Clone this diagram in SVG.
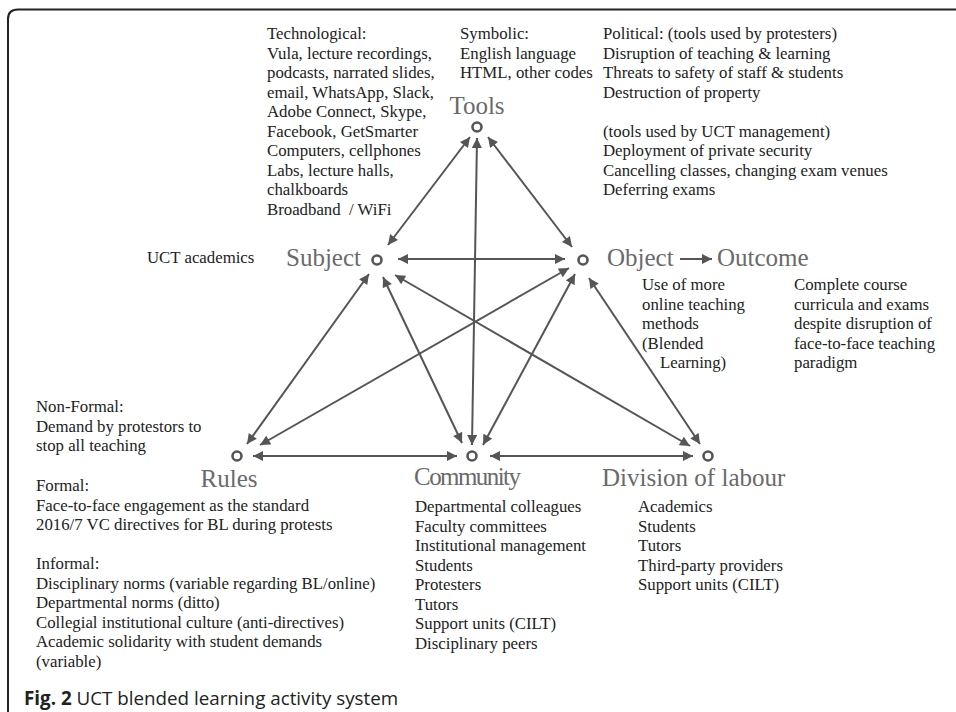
<svg xmlns="http://www.w3.org/2000/svg" width="956" height="712" viewBox="0 0 956 712">
<style>
.t{font-family:"Liberation Serif","Times New Roman",serif;font-size:16.8px;fill:#222}
.lbl{font-family:"Liberation Serif","Times New Roman",serif;font-size:25px;fill:#6a6a6a}
.node{fill:none;stroke:#555;stroke-width:2.6}
.edge{stroke:#555;stroke-width:2;fill:none;marker-start:url(#ah);marker-end:url(#ah)}
.cap{font-family:"Open Sans","Noto Sans",sans-serif;font-size:18.8px;fill:#222}
</style>
<defs>
<marker id="ah" viewBox="0 0 10 10" refX="10" refY="5" markerUnits="userSpaceOnUse" markerWidth="11" markerHeight="10" orient="auto-start-reverse">
<path d="M0,0 L10,5 L0,10 z" fill="#555"/>
</marker>
</defs>
<rect width="956" height="712" fill="#fff"/>
<path d="M8,712 L8,19 Q8,9.5 18,9.5 L956,9.5" fill="none" stroke="#222" stroke-width="2"/>

<g id="connectors">
<line class="edge" x1="470" y1="137" x2="388" y2="245"/>
<line class="edge" x1="488" y1="137" x2="572" y2="247"/>
<line class="edge" x1="477" y1="138" x2="472" y2="445"/>
<line class="edge" x1="398" y1="259" x2="565" y2="259"/>
<line class="edge" x1="369" y1="274" x2="247" y2="444"/>
<line class="edge" x1="383" y1="277" x2="462" y2="443"/>
<line class="edge" x1="395" y1="275" x2="690" y2="446"/>
<line class="edge" x1="569" y1="268" x2="260" y2="445"/>
<line class="edge" x1="575" y1="274" x2="483" y2="445"/>
<line class="edge" x1="589" y1="278" x2="700" y2="444"/>
<line class="edge" x1="253" y1="456" x2="457" y2="456"/>
<line class="edge" x1="490" y1="456" x2="693" y2="456"/>
<line x1="680" y1="259" x2="712" y2="259" stroke="#555" stroke-width="2" marker-end="url(#ah)"/>
</g>

<g id="tools">
<circle class="node" cx="477" cy="127" r="4.5"/>
<text class="lbl" x="477" y="114" text-anchor="middle">Tools</text>
<text class="t" x="267" y="39">Technological:</text>
<text class="t" x="267" y="58.5">Vula, lecture recordings,</text>
<text class="t" x="267" y="78">podcasts, narrated slides,</text>
<text class="t" x="267" y="97.5">email, WhatsApp, Slack,</text>
<text class="t" x="267" y="117">Adobe Connect, Skype,</text>
<text class="t" x="267" y="136.5">Facebook, GetSmarter</text>
<text class="t" x="267" y="156">Computers, cellphones</text>
<text class="t" x="267" y="175.5">Labs, lecture halls,</text>
<text class="t" x="267" y="195">chalkboards</text>
<text class="t" x="267" y="214.5" xml:space="preserve">Broadband  / WiFi</text>
<text class="t" x="460" y="39">Symbolic:</text>
<text class="t" x="460" y="58.5">English language</text>
<text class="t" x="460" y="78">HTML, other codes</text>
<text class="t" x="603" y="39">Political: (tools used by protesters)</text>
<text class="t" x="603" y="58.5">Disruption of teaching &amp; learning</text>
<text class="t" x="603" y="78">Threats to safety of staff &amp; students</text>
<text class="t" x="603" y="97.5">Destruction of property</text>
<text class="t" x="603" y="136.5">(tools used by UCT management)</text>
<text class="t" x="603" y="156">Deployment of private security</text>
<text class="t" x="603" y="175.5">Cancelling classes, changing exam venues</text>
<text class="t" x="603" y="195">Deferring exams</text>
</g>

<g id="subject">
<circle class="node" cx="377" cy="260" r="4.5"/>
<text class="lbl" x="361" y="266" text-anchor="end">Subject</text>
<text class="t" x="147" y="263">UCT academics</text>
</g>

<g id="object">
<circle class="node" cx="583" cy="260" r="4.5"/>
<text class="lbl" x="607" y="266">Object</text>
<text class="t" x="642" y="290">Use of more</text>
<text class="t" x="642" y="309.5">online teaching</text>
<text class="t" x="642" y="329">methods</text>
<text class="t" x="642" y="348.5">(Blended</text>
<text class="t" x="660" y="368">Learning)</text>
</g>

<g id="outcome">
<text class="lbl" x="717" y="266">Outcome</text>
<text class="t" x="794" y="290">Complete course</text>
<text class="t" x="794" y="309.5">curricula and exams</text>
<text class="t" x="794" y="329">despite disruption of</text>
<text class="t" x="794" y="348.5">face-to-face teaching</text>
<text class="t" x="794" y="368">paradigm</text>
</g>

<g id="rules">
<circle class="node" cx="237" cy="456" r="4.5"/>
<text class="lbl" x="229" y="487" text-anchor="middle">Rules</text>
<text class="t" x="36" y="412">Non-Formal:</text>
<text class="t" x="36" y="431.5">Demand by protestors to</text>
<text class="t" x="36" y="451">stop all teaching</text>
<text class="t" x="36" y="491">Formal:</text>
<text class="t" x="36" y="510.5">Face-to-face engagement as the standard</text>
<text class="t" x="36" y="530">2016/7 VC directives for BL during protests</text>
<text class="t" x="36" y="569">Informal:</text>
<text class="t" x="36" y="588.5">Disciplinary norms (variable regarding BL/online)</text>
<text class="t" x="36" y="608">Departmental norms (ditto)</text>
<text class="t" x="36" y="627.5">Collegial institutional culture (anti-directives)</text>
<text class="t" x="36" y="647">Academic solidarity with student demands</text>
<text class="t" x="36" y="666.5">(variable)</text>
</g>

<g id="community">
<circle class="node" cx="472" cy="456" r="4.5"/>
<text class="lbl" x="414" y="485" textLength="107">Community</text>
<text class="t" x="415" y="512">Departmental colleagues</text>
<text class="t" x="415" y="531.5">Faculty committees</text>
<text class="t" x="415" y="551">Institutional management</text>
<text class="t" x="415" y="570.5">Students</text>
<text class="t" x="415" y="590">Protesters</text>
<text class="t" x="415" y="609.5">Tutors</text>
<text class="t" x="415" y="629">Support units (CILT)</text>
<text class="t" x="415" y="648.5">Disciplinary peers</text>
</g>

<g id="division">
<circle class="node" cx="708" cy="456" r="4.5"/>
<text class="lbl" x="602" y="486">Division of labour</text>
<text class="t" x="638" y="512">Academics</text>
<text class="t" x="638" y="531.5">Students</text>
<text class="t" x="638" y="551">Tutors</text>
<text class="t" x="638" y="570.5">Third-party providers</text>
<text class="t" x="638" y="590">Support units (CILT)</text>
</g>

<g id="caption">
<text class="cap" x="24" y="705"><tspan font-weight="bold">Fig. 2</tspan> UCT blended learning activity system</text>
</g>
</svg>
